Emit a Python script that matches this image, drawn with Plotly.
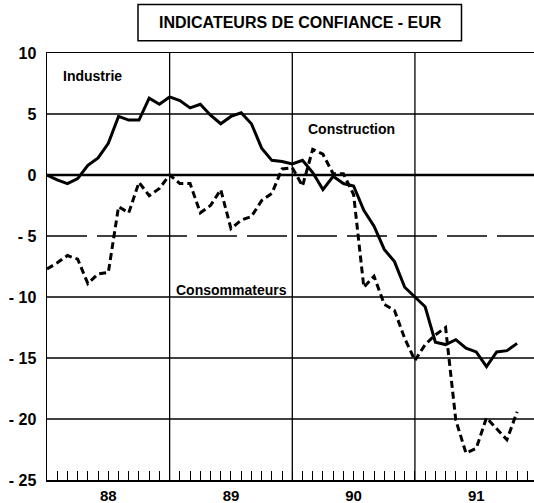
import plotly.graph_objects as go

# Monthly index: 0 = Jan 1988
months = list(range(47))

industrie = [0.0, -0.4, -0.7, -0.3, 0.8, 1.4, 2.6, 4.8, 4.5, 4.5,
             6.3, 5.8, 6.4, 6.1, 5.5, 5.8, 4.9, 4.2, 4.8, 5.1,
             4.2, 2.2, 1.2, 1.1, 0.9, 1.2, 0.2, -1.2, -0.1, -0.7,
             -0.9, -2.9, -4.2, -6.1, -7.1, -9.2, -10.0, -10.8, -13.7, -13.9,
             -13.5, -14.2, -14.5, -15.7, -14.5, -14.4, -13.8]

construction = [-7.7, -7.2, -6.6, -6.9, -8.9, -8.1, -8.0, -2.6, -3.1, -0.6,
                -1.7, -1.1, 0.0, -0.7, -0.7, -3.1, -2.5, -1.2, -4.4, -3.7,
                -3.4, -2.1, -1.5, 0.5, 0.6, -0.9, 2.1, 1.7, 0.1, 0.1,
                -1.6, -9.2, -8.3, -10.6, -11.1, -13.4, -15.2, -13.9, -13.1, -12.5,
                -20.1, -22.8, -22.4, -19.9, -20.8, -21.7, -19.4]

year_labels = ["88", "89", "90", "91"]
year_centers = [6, 18, 30, 42]
year_bounds = [12, 24, 36]

y_ticks = [-25, -20, -15, -10, -5, 0, 5, 10]
y_ticktext = ["- 25", "- 20", "- 15", "- 10", "- 5", "0", "5", "10"]
h_grid_solid = [5, -10, -15, -20]
h_grid_dash = [-5]

FONT = "Liberation Sans, Arial, Helvetica, sans-serif"

fig = go.Figure()
fig.add_trace(go.Scatter(x=months, y=industrie, mode="lines",
                         line=dict(color="black", width=3), name="Industrie",
                         hoverinfo="skip"))
fig.add_trace(go.Scatter(x=months, y=construction, mode="lines",
                         line=dict(color="black", width=3, dash="7px,4px"),
                         name="Construction", hoverinfo="skip"))

shapes = []
for v in h_grid_solid:
    shapes.append(dict(type="line", xref="paper", yref="y", x0=0, x1=1, y0=v, y1=v,
                       line=dict(color="black", width=1.3), layer="below"))
for v in h_grid_dash:
    shapes.append(dict(type="line", xref="paper", yref="y", x0=0, x1=1, y0=v, y1=v,
                       line=dict(color="black", width=1.3, dash="40px,10px"), layer="below"))
for xv in year_bounds:
    shapes.append(dict(type="line", xref="x", yref="paper", x0=xv, x1=xv, y0=0, y1=1,
                       line=dict(color="black", width=1.3), layer="below"))
# zero line
shapes.append(dict(type="line", xref="paper", yref="y", x0=0, x1=1, y0=0, y1=0,
                   line=dict(color="black", width=2.5), layer="below"))
# title box (paper coords)
shapes.append(dict(type="rect", xref="paper", yref="paper",
                   x0=(138 - 47) / 487, x1=(461.5 - 47) / 487,
                   y0=(480 - 40.7) / 427, y1=(480 - 4.5) / 427,
                   line=dict(color="black", width=1.5), fillcolor="white"))

annotations = [
    dict(text="<b>INDICATEURS DE CONFIANCE - EUR</b>", xref="paper", yref="paper",
         x=(300 - 47) / 487, y=(480 - 23) / 427, xanchor="center", yanchor="middle",
         showarrow=False, font=dict(family=FONT, size=16, color="black")),
    dict(text="<b>Industrie</b>", x=1.4, y=8.1, xanchor="left", yanchor="middle",
         showarrow=False, font=dict(family=FONT, size=14, color="black")),
    dict(text="<b>Construction</b>", x=25.3, y=3.8, xanchor="left", yanchor="middle",
         showarrow=False, font=dict(family=FONT, size=14, color="black")),
    dict(text="<b>Consommateurs</b>", x=12.4, y=-9.4, xanchor="left", yanchor="middle",
         showarrow=False, font=dict(family=FONT, size=14, color="black")),
]

fig.update_layout(
    width=534, height=503,
    margin=dict(l=47, r=0, t=53, b=23, autoexpand=False),
    paper_bgcolor="white", plot_bgcolor="white",
    showlegend=False,
    shapes=shapes, annotations=annotations,
    font=dict(family=FONT, color="black"),
)
fig.update_xaxes(range=[0, 47.65], tickmode="array", tickvals=year_centers,
                 ticktext=year_labels, ticks="inside", ticklen=9, tickwidth=1,
                 tickcolor="black", showgrid=False, zeroline=False,
                 showline=True, linecolor="black", linewidth=1.5, mirror=True,
                 automargin=False, ticklabelstandoff=1,
                 tickfont=dict(family=FONT, size=15, color="black", weight="bold"),
                 minor=dict(tickmode="linear", tick0=0, dtick=1, ticks="inside",
                            ticklen=9, tickwidth=1, tickcolor="black", showgrid=False))
fig.update_yaxes(range=[-25, 10], tickmode="array", tickvals=y_ticks,
                 ticktext=y_ticktext, ticks="", showgrid=False, zeroline=False,
                 showline=True, linecolor="black", linewidth=1.5,
                 automargin=False, ticklabelstandoff=6,
                 tickfont=dict(family=FONT, size=16, color="black", weight="bold"))

# Remove the browser's default 8px body margin so the figure fills the window.
fig.write_html("out.html",
               config={"displayModeBar": False, "staticPlot": True},
               post_script="document.body.style.margin='0';document.body.style.overflow='hidden';")
